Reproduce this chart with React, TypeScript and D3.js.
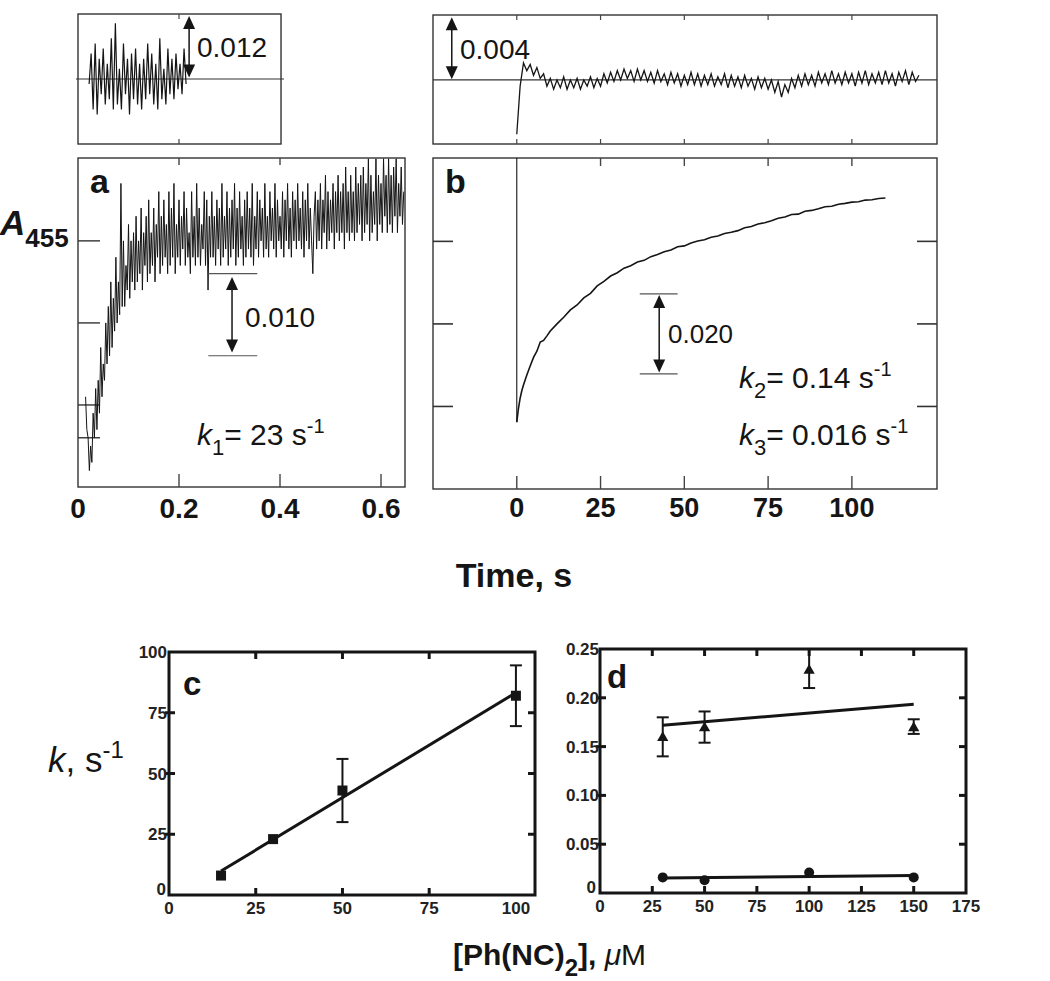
import React, { useEffect, useRef } from "react";
import * as d3 from "d3";

// panel a: absorbance trace (mA units), sampled from 0.015 s every 0.0025 s
const traceAStart = 0.015;
const traceAStep = 0.0025;
const traceA = [
  11, 7, 6, 2, 5, 3, 9, 6, 12, 7,
  13, 9, 17, 11, 15, 13, 20, 15, 22, 16,
  25, 17, 23, 19, 28, 20, 25, 21, 37, 22,
  30, 22, 27, 24, 32, 23, 30, 25, 31, 24,
  33, 25, 30, 26, 34, 24, 31, 27, 33, 25,
  35, 26, 31, 27, 34, 25, 32, 28, 36, 26,
  33, 27, 35, 28, 32, 26, 36, 27, 34, 28,
  37, 26, 32, 28, 35, 27, 33, 29, 36, 27,
  34, 28, 31, 26, 36, 28, 33, 27, 37, 28,
  34, 27, 32, 29, 36, 27, 35, 24, 33, 28,
  36, 28, 33, 27, 35, 29, 34, 27, 37, 28,
  33, 29, 36, 27, 34, 28, 35, 29, 37, 27,
  34, 28, 36, 29, 33, 27, 35, 28, 36, 29,
  34, 28, 37, 27, 33, 29, 36, 28, 35, 30,
  34, 28, 37, 29, 33, 28, 36, 30, 34, 29,
  37, 28, 35, 30, 33, 29, 36, 28, 35, 30,
  37, 29, 34, 28, 36, 30, 35, 29, 37, 30,
  34, 29, 36, 28, 35, 30, 37, 29, 34, 30,
  26, 33, 36, 29, 35, 30, 37, 29, 35, 31,
  38, 29, 36, 30, 35, 31, 37, 29, 36, 31,
  38, 30, 36, 31, 37, 29, 39, 31, 36, 30,
  38, 31, 36, 30, 39, 31, 37, 32, 38, 30,
  39, 31, 37, 32, 40, 30, 38, 31, 36, 32,
  40, 30, 38, 32, 37, 31, 40, 33, 38, 31,
  40, 32, 38, 31, 39, 33, 40, 31, 37, 33,
  39, 32, 36,
];

// panel a inset: residuals (mA), from 0.022 s every 0.004 s
const residAStart = 0.022;
const residAStep = 0.004;
const residA = [
  -1, 5, -6, 7, -7, 4, -3, 6, -5, 3, -4, 8, -6, 11, -5, 2, -6, 7, -3, 4, -7, 5,
  -4, 6, -5, 3, -6, 4, -4, 7, -3, 5, -5, 3, -6, 8, -4, 2, -5, 6, -3, 4, -4, 5, -2,
  3, -3, 6, -1,
];

// panel b: absorbance trace (mA)
const traceBTime = [
  0, 0.5, 1, 1.5, 2, 3, 4, 5, 6, 7, 8, 9, 10, 12, 14, 16, 18, 20, 22, 24, 26, 28,
  30, 32, 34, 36, 38, 40, 42, 44, 46, 48, 50, 52, 54, 56, 58, 60, 62, 64, 66, 68,
  70, 72, 74, 76, 78, 80, 82, 84, 86, 88, 90, 92, 94, 96, 98, 100, 102, 104, 106,
  108, 110,
];
const traceB = [
  16.2, 19.5, 22.0, 23.8, 25.2, 27.6, 29.8, 31.9, 33.4, 35.6, 36.0, 37.1, 38.3,
  40.0, 41.6, 43.4, 44.6, 46.3, 47.4, 49.2, 50.3, 51.6, 52.4, 53.5, 54.1, 55.0,
  55.4, 56.3, 56.8, 57.5, 57.9, 58.7, 58.9, 59.6, 60.1, 60.4, 61.0, 61.3, 61.9,
  62.2, 62.6, 63.3, 63.6, 64.2, 64.5, 65.0, 65.6, 65.9, 66.5, 66.6, 67.3, 67.5,
  67.9, 68.4, 68.5, 69.0, 69.2, 69.5, 69.6, 70.0, 70.1, 70.4, 70.5,
];

// panel b inset: residuals (1e-4 units), one per second from 0 s
const residBStep = 1;
const residB = [
  -35, -4, 11, 6, 10, 3, 8, 1, 4, -4, 1, -6, 0, -5, 2, -6, 0, -5, 1, -6, 0, -4,
  2, -5, 1, -4, 4, -2, 5, -1, 6, 0, 7, 1, 6, -1, 7, 0, 6, -1, 5, -2, 6, -1, 4,
  -3, 5, -2, 4, -4, 3, -3, 5, -3, 4, -4, 3, -3, 4, -4, 2, -3, 4, -5, 3, -4, 2,
  -5, 3, -4, 1, -6, 2, -5, 1, -6, 0, -8, -1, -11, -3, -8, 1, -5, 3, -4, 4, -3, 3,
  -4, 5, -2, 4, -3, 6, -2, 4, -3, 5, -2, 4, -4, 5, -2, 6, -3, 4, -2, 5, -3, 6,
  -2, 4, -4, 5, -1, 6, -3, 5, -1, 3,
];

// panel c: k1 vs [Ph(NC)2]
const cConc = [15, 30, 50, 100];
const cK = [8, 23, 43, 82];
const cLo = [8, 23, 30, 69.5];
const cHi = [8, 23, 56, 94.5];

// panel d: k2 (triangles) and k3 (circles) vs [Ph(NC)2]
const dConc = [30, 50, 100, 150];
const dK2 = [0.159, 0.169, 0.228, 0.169];
const dK2Lo = [0.14, 0.154, 0.21, 0.163];
const dK2Hi = [0.18, 0.186, 0.25, 0.178];
const dK3 = [0.016, 0.013, 0.021, 0.016];

const aTicks = [0, 0.2, 0.4, 0.6];
const aLeftTicks = [6, 10, 20, 30];
const bTicks = [0, 25, 50, 75, 100];
const bLeftTicks = [20, 40, 60];
const cXTicks = [0, 25, 50, 75, 100];
const cYTicks = [0, 25, 50, 75, 100];
const dXTicks = [0, 25, 50, 75, 100, 125, 150, 175];
const dYTicks = [0, 0.05, 0.1, 0.15, 0.2, 0.25];
const dYLabels = ["0", "0.05", "0.10", "0.15", "0.20", "0.25"];

const FONT = "'Liberation Sans', Arial, Helvetica, sans-serif";
const INK = "#151515";

const fitLine = (xs: number[], ys: number[]) => {
  const mx = d3.mean(xs) as number;
  const my = d3.mean(ys) as number;
  let sxy = 0;
  let sxx = 0;
  xs.forEach((x, i) => {
    sxy += (x - mx) * (ys[i] - my);
    sxx += (x - mx) * (x - mx);
  });
  const slope = sxy / sxx;
  return (x: number) => my + slope * (x - mx);
};

const App: React.FC = () => {
  const svgRef = useRef<SVGSVGElement>(null);

  useEffect(() => {
    if (!svgRef.current) return;
    const svg = d3.select(svgRef.current);
    svg.selectAll("*").remove();
    svg.style("font-family", FONT);

    const vArrow = (x: number, yTop: number, yBot: number) => {
      const head = 13;
      const hw = 6;
      svg.append("line")
        .attr("x1", x).attr("x2", x)
        .attr("y1", yTop + head - 1).attr("y2", yBot - head + 1)
        .attr("stroke", INK).attr("stroke-width", 1.5);
      svg.append("path")
        .attr("d", `M${x},${yTop} L${x - hw},${yTop + head} L${x + hw},${yTop + head} Z`)
        .attr("fill", INK);
      svg.append("path")
        .attr("d", `M${x},${yBot} L${x - hw},${yBot - head} L${x + hw},${yBot - head} Z`)
        .attr("fill", INK);
    };

    const hLine = (x1: number, x2: number, y: number, w = 1.2, col = "#444") =>
      svg.append("line")
        .attr("x1", x1).attr("x2", x2).attr("y1", y).attr("y2", y)
        .attr("stroke", col).attr("stroke-width", w);

    const vLine = (x: number, y1: number, y2: number, w = 1.2, col = "#444") =>
      svg.append("line")
        .attr("x1", x).attr("x2", x).attr("y1", y1).attr("y2", y2)
        .attr("stroke", col).attr("stroke-width", w);

    const box = (x0: number, x1: number, y0: number, y1: number, w: number, col: string) =>
      svg.append("rect")
        .attr("x", x0).attr("y", y0)
        .attr("width", x1 - x0).attr("height", y1 - y0)
        .attr("fill", "none").attr("stroke", col).attr("stroke-width", w);

    // ---------- panel a ----------
    const xA = d3.scaleLinear().domain([0, 0.6475]).range([78, 405]);
    const yA = d3.scaleLinear().domain([0, 40.1]).range([487, 158]);
    const yAi = d3.scaleLinear().domain([-12.8, 12.8]).range([144, 14]);
    const insetAEnd = 0.402;

    box(xA(0), xA(insetAEnd), yAi(12.8), yAi(-12.8), 1.4, "#333");
    hLine(xA(0) - 2, xA(insetAEnd) + 3, yAi(0), 1.2, "#333");
    [0.2].forEach((t) => {
      vLine(xA(t), yAi(12.8), yAi(12.8) + 5);
      vLine(xA(t), yAi(-12.8), yAi(-12.8) - 5);
    });
    const residALine = d3.line<number>()
      .x((_, i) => xA(residAStart + i * residAStep))
      .y((v) => yAi(v));
    svg.append("path").datum(residA).attr("d", residALine)
      .attr("fill", "none").attr("stroke", INK).attr("stroke-width", 1.2);
    vArrow(xA(0.22), yAi(12.4), yAi(0.3));
    svg.append("text").attr("x", 197).attr("y", 57)
      .attr("font-size", 28).attr("fill", INK).text("0.012");

    box(xA(0), xA(0.6475), yA(40.1), yA(0), 1.4, "#333");
    aTicks.filter((t) => t > 0).forEach((t) => {
      vLine(xA(t), yA(0), yA(0) - 13, 1.4);
      if (t < 0.6) vLine(xA(t), yA(40.1), yA(40.1) + 7, 1.4);
    });
    aLeftTicks.forEach((v) => hLine(xA(0), xA(0) + 22, yA(v), 1.4, "#333"));
    aTicks.forEach((t) => {
      svg.append("text").attr("x", xA(t)).attr("y", 518)
        .attr("text-anchor", "middle").attr("font-size", 28)
        .attr("font-weight", "bold").attr("fill", INK)
        .text(t === 0 ? "0" : d3.format(".1f")(t));
    });
    const traceALine = d3.line<number>()
      .x((_, i) => xA(traceAStart + i * traceAStep))
      .y((v) => yA(v));
    svg.append("path").datum(traceA).attr("d", traceALine)
      .attr("fill", "none").attr("stroke", INK).attr("stroke-width", 1);

    hLine(xA(0.258), xA(0.355), yA(26), 1.2, "#555");
    hLine(xA(0.258), xA(0.355), yA(16), 1.2, "#555");
    vArrow(xA(0.305), yA(25.6), yA(16.4));
    svg.append("text").attr("x", 245).attr("y", 327)
      .attr("font-size", 28).attr("fill", INK).text("0.010");

    svg.append("text").attr("x", 90).attr("y", 193)
      .attr("font-size", 34).attr("font-weight", "bold").attr("fill", INK).text("a");

    const k1 = svg.append("text").attr("x", 197).attr("y", 445)
      .attr("font-size", 30).attr("fill", INK);
    k1.append("tspan").attr("font-style", "italic").text("k");
    k1.append("tspan").attr("font-size", 22).attr("dy", 10).text("1");
    k1.append("tspan").attr("dy", -10).text("= 23 s");
    k1.append("tspan").attr("font-size", 20).attr("dy", -12).text("-1");

    const aLabel = svg.append("text").attr("x", 0).attr("y", 235)
      .attr("font-size", 35).attr("font-weight", "bold").attr("fill", INK);
    aLabel.append("tspan").attr("font-style", "italic").text("A");
    aLabel.append("tspan").attr("font-size", 26).attr("dy", 12).text("455");

    // ---------- panel b ----------
    const xB = d3.scaleLinear().domain([-25, 125.4]).range([433, 937]);
    const yB = d3.scaleLinear().domain([0, 80.2]).range([489, 158]);
    const yBi = d3.scaleLinear().domain([-41.3, 41.9]).range([144, 15]);

    box(xB(-25), xB(125.4), yBi(41.9), yBi(-41.3), 1.4, "#333");
    hLine(xB(-25), xB(125.4), yBi(0), 1.2, "#333");
    bTicks.forEach((t) => {
      vLine(xB(t), yBi(41.9), yBi(41.9) + 5);
      vLine(xB(t), yBi(-41.3), yBi(-41.3) - 5);
    });
    const residBLine = d3.line<number>()
      .x((_, i) => xB(i * residBStep))
      .y((v) => yBi(v));
    svg.append("path").datum(residB).attr("d", residBLine)
      .attr("fill", "none").attr("stroke", INK).attr("stroke-width", 1.3);
    vArrow(xB(-19.4), yBi(40.5), yBi(0.5));
    svg.append("text").attr("x", 460).attr("y", 59)
      .attr("font-size", 28).attr("fill", INK).text("0.004");

    box(xB(-25), xB(125.4), yB(80.2), yB(0), 1.4, "#333");
    bTicks.forEach((t) => {
      vLine(xB(t), yB(0), yB(0) - 13, 1.4);
      if (t > 0) vLine(xB(t), yB(80.2), yB(80.2) + 8, 1.4);
      svg.append("text").attr("x", xB(t)).attr("y", 517)
        .attr("text-anchor", "middle").attr("font-size", 27)
        .attr("font-weight", "bold").attr("fill", INK).text(String(t));
    });
    bLeftTicks.forEach((v) => {
      hLine(xB(-25), xB(-25) + 20, yB(v), 1.6, "#333");
      hLine(xB(125.4) - 20, xB(125.4), yB(v), 1.6, "#333");
    });
    vLine(xB(0), yB(80.2), yB(traceB[0]), 1.1, INK);
    const traceBLine = d3.line<number>()
      .x((_, i) => xB(traceBTime[i]))
      .y((v) => yB(v));
    svg.append("path").datum(traceB).attr("d", traceBLine)
      .attr("fill", "none").attr("stroke", INK).attr("stroke-width", 1.6);

    hLine(xB(36.7), xB(48), yB(47.3), 1.2, "#555");
    hLine(xB(36.7), xB(48), yB(27.9), 1.2, "#555");
    vArrow(xB(42.5), yB(47), yB(28.2));
    svg.append("text").attr("x", 668).attr("y", 343)
      .attr("font-size", 26).attr("fill", INK).text("0.020");

    svg.append("text").attr("x", 445).attr("y", 193)
      .attr("font-size", 34).attr("font-weight", "bold").attr("fill", INK).text("b");

    const kLabel = (y: number, sub: string, val: string) => {
      const t = svg.append("text").attr("x", 739).attr("y", y)
        .attr("font-size", 30).attr("fill", INK);
      t.append("tspan").attr("font-style", "italic").text("k");
      t.append("tspan").attr("font-size", 22).attr("dy", 10).text(sub);
      t.append("tspan").attr("dy", -10).text(`= ${val} s`);
      t.append("tspan").attr("font-size", 20).attr("dy", -12).text("-1");
    };
    kLabel(388, "2", "0.14");
    kLabel(445, "3", "0.016");

    svg.append("text").attr("x", 514).attr("y", 587)
      .attr("text-anchor", "middle").attr("font-size", 34)
      .attr("font-weight", "bold").attr("fill", INK).text("Time, s");

    // ---------- panel c ----------
    const xC = d3.scaleLinear().domain([0, 105.5]).range([169, 535]);
    const yC = d3.scaleLinear().domain([0, 100]).range([895, 652]);
    box(xC(0), xC(105.5), yC(100), yC(0), 3, INK);
    cXTicks.filter((t) => t > 0 && t < 100).forEach((t) => {
      vLine(xC(t), yC(0), yC(0) - 7, 3, INK);
      vLine(xC(t), yC(100), yC(100) + 7, 3, INK);
    });
    cYTicks.filter((v) => v > 0 && v < 100).forEach((v) => {
      hLine(xC(0) - 4, xC(0) + 6, yC(v), 3, INK);
      hLine(xC(105.5) - 7, xC(105.5), yC(v), 3, INK);
    });
    cXTicks.forEach((t) => {
      svg.append("text").attr("x", xC(t)).attr("y", 914)
        .attr("text-anchor", "middle").attr("font-size", 17)
        .attr("font-weight", "bold").attr("fill", "#222").text(String(t));
    });
    cYTicks.forEach((v) => {
      svg.append("text").attr("x", v === 0 ? 166 : 167)
        .attr("y", v === 0 ? yC(v) : yC(v) + 6)
        .attr("text-anchor", "end").attr("font-size", 17)
        .attr("font-weight", "bold").attr("fill", "#222").text(String(v));
    });
    const fitC = fitLine(cConc, cK);
    const cExt = d3.extent(cConc) as [number, number];
    svg.append("line")
      .attr("x1", xC(cExt[0])).attr("y1", yC(fitC(cExt[0])))
      .attr("x2", xC(cExt[1])).attr("y2", yC(fitC(cExt[1])))
      .attr("stroke", INK).attr("stroke-width", 3);
    cConc.forEach((c, i) => {
      if (cHi[i] > cLo[i]) {
        vLine(xC(c), yC(cHi[i]), yC(cLo[i]), 2, INK);
        hLine(xC(c) - 6, xC(c) + 6, yC(cHi[i]), 2, INK);
        hLine(xC(c) - 6, xC(c) + 6, yC(cLo[i]), 2, INK);
      }
      svg.append("rect")
        .attr("x", xC(c) - 5).attr("y", yC(cK[i]) - 5)
        .attr("width", 10).attr("height", 10).attr("fill", INK);
    });
    svg.append("text").attr("x", 183).attr("y", 695)
      .attr("font-size", 33).attr("font-weight", "bold").attr("fill", INK).text("c");

    const kAxis = svg.append("text").attr("x", 48).attr("y", 772)
      .attr("font-size", 35).attr("fill", INK);
    kAxis.append("tspan").attr("font-style", "italic").text("k");
    kAxis.append("tspan").text(", s");
    kAxis.append("tspan").attr("font-size", 24).attr("dy", -14).text("-1");

    // ---------- panel d ----------
    const xD = d3.scaleLinear().domain([0, 175]).range([600, 966]);
    const yD = d3.scaleLinear().domain([0, 0.25]).range([893, 649]);
    box(xD(0), xD(175), yD(0.25), yD(0), 3, INK);
    dXTicks.filter((t) => t > 0 && t < 175).forEach((t) => {
      vLine(xD(t), yD(0), yD(0) - 7, 3, INK);
      vLine(xD(t), yD(0.25), yD(0.25) + 7, 3, INK);
    });
    dYTicks.filter((v) => v > 0 && v < 0.25).forEach((v) => {
      hLine(xD(0) - 4, xD(0) + 6, yD(v), 3, INK);
      hLine(xD(175) - 7, xD(175), yD(v), 3, INK);
    });
    dXTicks.forEach((t) => {
      svg.append("text").attr("x", xD(t)).attr("y", 912)
        .attr("text-anchor", "middle").attr("font-size", 17)
        .attr("font-weight", "bold").attr("fill", "#222").text(String(t));
    });
    dYTicks.forEach((v, i) => {
      svg.append("text").attr("x", i === 0 ? 596 : 599)
        .attr("y", i === 0 ? yD(v) : yD(v) + 6)
        .attr("text-anchor", "end").attr("font-size", 17)
        .attr("font-weight", "bold").attr("fill", "#222").text(dYLabels[i]);
    });
    const dExt = d3.extent(dConc) as [number, number];
    const fitK2 = fitLine(dConc, dK2);
    const fitK3 = fitLine(dConc, dK3);
    [fitK2, fitK3].forEach((f) => {
      svg.append("line")
        .attr("x1", xD(dExt[0])).attr("y1", yD(f(dExt[0])))
        .attr("x2", xD(dExt[1])).attr("y2", yD(f(dExt[1])))
        .attr("stroke", INK).attr("stroke-width", 3);
    });
    const tri = d3.symbol().type(d3.symbolTriangle).size(55);
    dConc.forEach((c, i) => {
      vLine(xD(c), yD(dK2Hi[i]), yD(dK2Lo[i]), 2, INK);
      hLine(xD(c) - 6, xD(c) + 6, yD(dK2Hi[i]), 2, INK);
      hLine(xD(c) - 6, xD(c) + 6, yD(dK2Lo[i]), 2, INK);
      svg.append("path").attr("d", tri)
        .attr("transform", `translate(${xD(c)},${yD(dK2[i])})`).attr("fill", INK);
      svg.append("circle").attr("cx", xD(c)).attr("cy", yD(dK3[i]))
        .attr("r", 5).attr("fill", INK);
    });
    svg.append("text").attr("x", 607).attr("y", 688)
      .attr("font-size", 33).attr("font-weight", "bold").attr("fill", INK).text("d");

    const xLab = svg.append("text").attr("x", 453).attr("y", 965)
      .attr("font-size", 30).attr("font-weight", "bold").attr("fill", INK);
    xLab.append("tspan").text("[Ph(NC)");
    xLab.append("tspan").attr("font-size", 24).attr("dy", 11).text("2");
    xLab.append("tspan").attr("dy", -11).text("], ");
    xLab.append("tspan").attr("font-style", "italic").attr("font-weight", "normal").text("μ");
    xLab.append("tspan").attr("font-weight", "normal").text("M");
  }, []);

  return (
    <svg
      ref={svgRef}
      width={1050}
      height={981}
      style={{ position: "absolute", left: 0, top: 0, background: "#fff" }}
    />
  );
};

export default App;
